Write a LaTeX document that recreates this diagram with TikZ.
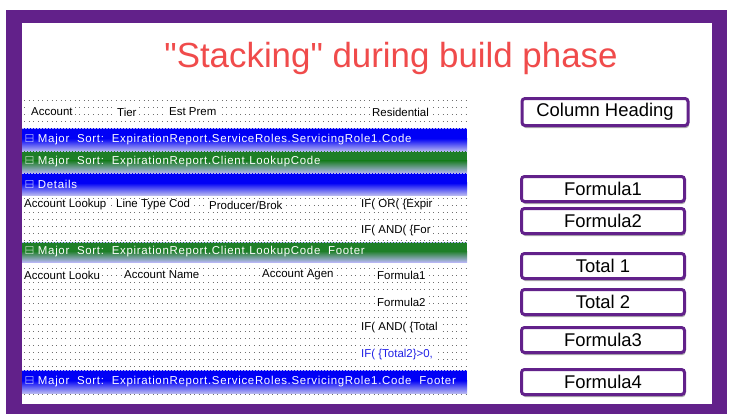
\documentclass[tikz,border=0pt]{standalone}
\usepackage{amssymb}
\usepackage{fontspec}
\setmainfont{Liberation Sans}
\newfontfamily\titfont{Liberation Sans}
\newfontfamily\barfont[LetterSpace=6]{Liberation Sans}
\usetikzlibrary{shadows,positioning}
\definecolor{morado}{HTML}{62218A}
\definecolor{rojotit}{HTML}{F04B4B}
\definecolor{azulbarra}{HTML}{0000F6}
\definecolor{verdebarra}{HTML}{1E7F28}
\definecolor{lavanda}{HTML}{B6B6F2}
\definecolor{puntos}{HTML}{707070}
\definecolor{azultexto}{HTML}{2020E6}
\tikzset{
  tit/.style={font=\titfont\fontsize{35}{38}\selectfont,text=rojotit,inner sep=0pt},
  rejilla/.style={draw=puntos,line width=1bp,dash pattern=on 1bp off 3.6bp},
  campo/.style={fill=white,anchor=west,inner xsep=2bp,inner ysep=1bp,minimum height=13bp,font=\fontsize{11.5}{12}\selectfont},
  barratxt/.style={text=white,anchor=west,inner sep=0pt,font=\barfont\fontsize{11.5}{12}\selectfont},
  caja/.style={draw=morado,line width=3bp,rounded corners=3bp,fill=white,minimum width=163bp,minimum height=25bp,inner sep=0pt,
    font=\fontsize{18.5}{20}\selectfont,drop shadow={shadow xshift=1bp,shadow yshift=-2.5bp,opacity=0.45,fill=black!70}},
}
\begin{document}
\begin{tikzpicture}[x=1bp,y=-1bp]
  \useasboundingbox (0,0) rectangle (729,414);
  % marco morado
  \fill[morado] (6,10) rectangle (727,414);
  \fill[white] (22,23) rectangle (712,404);
  % titulo
  \node[tit] (titulo) at (391,58) {"Stacking" during build phase};
  % rejilla de puntos del informe
  \foreach \y in {100,107,...,400}
    \draw[rejilla] (24,\y) -- (467,\y);
  % barras de seccion
  \foreach \ya/\yb/\col/\txt [count=\i] in {
      128/151/azulbarra/Major\ \ Sort:\ \ ExpirationReport.ServiceRoles.ServicingRole1.Code,
      151/173/verdebarra/Major\ \ Sort:\ \ ExpirationReport.Client.LookupCode,
      173/195/azulbarra/Details,
      242/262/verdebarra/Major\ \ Sort:\ \ ExpirationReport.Client.LookupCode\ \ Footer,
      370/393/azulbarra/Major\ \ Sort:\ \ ExpirationReport.ServiceRoles.ServicingRole1.Code\ \ Footer}{
    \fill[\col] (22,\ya) rectangle (467,\yb);
    \shade[top color=\col,bottom color=lavanda] (22,{\ya+0.45*(\yb-\ya)}) rectangle (467,\yb);
    \draw[lavanda,line width=0.8bp,dash pattern=on 2bp off 1bp] (22,\ya) -- (467,\ya) (22,\yb) -- (467,\yb);
    \node[barratxt] (barra\i) at (25,{(\ya+\yb)/2}) {$\boxminus$\ \txt};
  }
  % cabecera de columnas
  \node[campo] (cAccount) at (29,112) {Account};
  \node[campo] (cTier) at (115,112) {Tier};
  \node[campo] (cPrem) at (167,112) {Est Prem};
  \node[campo] (cResid) at (370,112) {Residential};
  % detalle
  \node[campo] (dLookup) at (22,205) {Account Lookup};
  \node[campo] (dLinea) at (114,205) {Line Type Cod};
  \node[campo] (dProd) at (207,205) {Producer/Brok};
  \node[campo] (dExpir) at (359,205) {IF( OR( \{Expir};
  \node[campo] (dFor) at (359,231) {IF( AND( \{For};
  % pie del cliente
  \node[campo] (pLookup) at (22,275) {Account Looku};
  \node[campo] (pNombre) at (122,275) {Account Name};
  \node[campo] (pAgen) at (260,275) {Account Agen};
  \node[campo] (pForm1) at (375,275) {Formula1};
  \node[campo] (pForm2) at (375,302) {Formula2};
  \node[campo] (pTotal) at (359,328) {IF( AND( \{Total};
  \node[campo,text=azultexto] (pTotal2) at (359,355) {IF( \{Total2\}>0,};
  % cajas de la derecha
  \node[caja,minimum width=166bp,minimum height=27bp] (cabecera) at (605,112) {Column Heading};
  \node[caja] (formula1) at (603,189) {Formula1};
  \node[caja] (formula2) at (603,221) {Formula2};
  \node[caja] (total1) at (603,266) {Total 1};
  \node[caja] (total2) at (603,302) {Total 2};
  \node[caja] (formula3) at (603,340) {Formula3};
  \node[caja] (formula4) at (603,382) {Formula4};
\end{tikzpicture}
\end{document}
